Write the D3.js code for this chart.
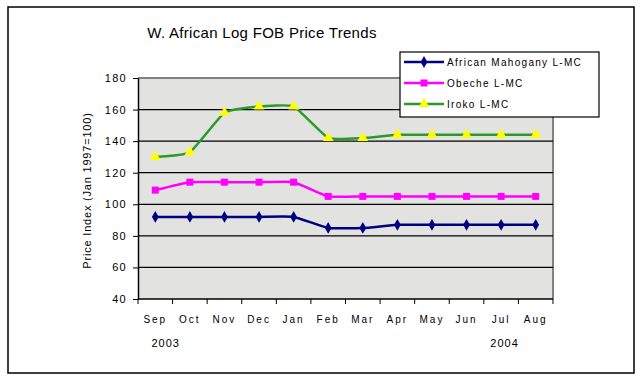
<!DOCTYPE html>
<html><head><meta charset="utf-8">
<script src="https://cdn.jsdelivr.net/npm/d3@7"></script>
<style>body{margin:0;background:#fff}svg{display:block;font-family:Arial,"Liberation Sans",sans-serif}</style>
</head><body><svg id="c" width="641" height="382"></svg>
<script>
const months = ["Sep","Oct","Nov","Dec","Jan","Feb","Mar","Apr","May","Jun","Jul","Aug"];
const mahogany = [92,92,92,92,92,85,85,87,87,87,87,87];
const obeche = [109,114,114,114,114,105,105,105,105,105,105,105];
const iroko = [130,133,158,162,162,142,142,144,144,144,144,144];
const yTicks = [40,60,80,100,120,140,160,180];
const years = [{label:"2003", m:"Sep", off:0.8},{label:"2004", m:"Jul", off:0.6}];
const seriesNames = ["African Mahogany L-MC","Obeche L-MC","Iroko L-MC"];

const svg = d3.select("#c");
const L=138, R=553, T=78, B=299;
svg.append("rect").attr("x",8).attr("y",7).attr("width",626).attr("height",366)
  .attr("fill","#fff").attr("stroke","#000").attr("stroke-width",1.5);

const x = d3.scaleBand().domain(months).range([L,R]);
const y = d3.scaleLinear().domain([40,180]).range([B,T]);

svg.append("rect").attr("x",L).attr("y",T).attr("width",R-L).attr("height",B-T)
  .attr("fill","#e2e3e1");
svg.append("path").attr("d",`M${L},${T}H${R}V${B}`).attr("fill","none").attr("stroke","#808080").attr("stroke-width",2);

svg.append("g").selectAll("line").data(yTicks.filter(d=>d>40&&d<180)).join("line")
  .attr("x1",L).attr("x2",R).attr("y1",d=>y(d)).attr("y2",d=>y(d)).attr("stroke","#000").attr("stroke-width",1.2);

const ya = svg.append("g").attr("transform",`translate(${L},0)`)
  .call(d3.axisLeft(y).tickValues(yTicks).tickSize(5).tickSizeOuter(0));
ya.select(".domain").attr("stroke-width",1.5);
ya.selectAll("text").attr("font-size",11).attr("letter-spacing","1.3px").attr("fill","#000").attr("dx",-3);
ya.selectAll("line").attr("stroke","#000");

const xa = svg.append("g").attr("transform",`translate(0,${B})`);
xa.append("line").attr("x1",L).attr("x2",R).attr("stroke","#000").attr("stroke-width",1.5);
const bounds = months.map(m=>x(m)).concat([R]);
xa.selectAll("line.t").data(bounds).join("line").attr("class","t")
  .attr("x1",d=>d).attr("x2",d=>d).attr("y1",0).attr("y2",5).attr("stroke","#000");
xa.selectAll("text").data(months).join("text")
  .attr("x",d=>x(d)+x.bandwidth()/2).attr("y",24).attr("text-anchor","middle")
  .attr("font-size",10).attr("letter-spacing","2px").text(d=>d);
svg.selectAll("text.yr").data(years).join("text").attr("class","yr")
  .attr("x",d=>x(d.m)+x.bandwidth()*d.off).attr("y",347).attr("text-anchor","middle")
  .attr("font-size",11).attr("letter-spacing","1px").text(d=>d.label);

svg.append("text").attr("x",262).attr("y",38).attr("text-anchor","middle")
  .attr("font-size",15).attr("letter-spacing","0.3px").text("W. African Log FOB Price Trends");
svg.append("text").attr("transform",`translate(91,${(T+B)/2+2}) rotate(-90)`)
  .attr("text-anchor","middle").attr("font-size",11).attr("letter-spacing","0.8px")
  .text("Price Index (Jan 1997=100)");

const series = [
  {name:seriesNames[0], vals:mahogany, color:"#000080", mfill:"#000080", shape:"diamond"},
  {name:seriesNames[1], vals:obeche, color:"#ff00ff", mfill:"#ff00ff", shape:"square"},
  {name:seriesNames[2], vals:iroko, color:"#2a9a2a", mfill:"#ffff00", shape:"triangle"}
];
const sym = {diamond:d3.symbolDiamond, square:d3.symbolSquare, triangle:d3.symbolTriangle};
const sz = {diamond:40, square:49, triangle:50};
const line = d3.line().x((d,i)=>x(months[i])+x.bandwidth()/2).y(d=>y(d)).curve(d3.curveCardinal.tension(0.6));
series.forEach(s=>{
  svg.append("path").attr("d",line(s.vals)).attr("fill","none").attr("stroke",s.color).attr("stroke-width",2.5);
  svg.append("g").selectAll("path").data(s.vals).join("path")
    .attr("transform",(d,i)=>`translate(${x(months[i])+x.bandwidth()/2},${y(d)})`)
    .attr("d",d3.symbol().type(sym[s.shape]).size(sz[s.shape])).attr("fill",s.mfill);
});

const lg = svg.append("g");
lg.append("rect").attr("x",400).attr("y",52).attr("width",199).attr("height",65)
  .attr("fill","#fff").attr("stroke","#000").attr("stroke-width",1.2);
series.forEach((s,i)=>{
  const yy = 62 + i*21;
  lg.append("line").attr("x1",404).attr("x2",444).attr("y1",yy).attr("y2",yy).attr("stroke",s.color).attr("stroke-width",2.5);
  lg.append("path").attr("transform",`translate(424,${yy})`).attr("d",d3.symbol().type(sym[s.shape]).size(sz[s.shape])).attr("fill",s.mfill);
  lg.append("text").attr("x",447).attr("y",yy+4).attr("font-size",10).attr("letter-spacing","1.3px").text(s.name);
});
</script></body></html>
